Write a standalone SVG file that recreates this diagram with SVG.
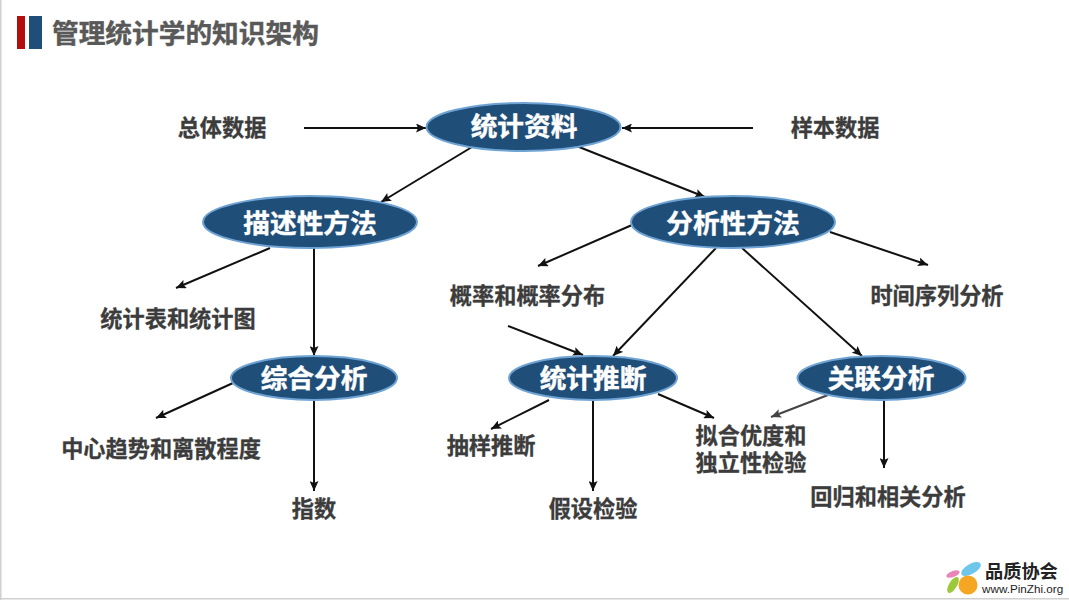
<svg xmlns="http://www.w3.org/2000/svg" width="1069" height="600" viewBox="0 0 1069 600">
<defs>
<marker id="a" markerUnits="userSpaceOnUse" markerWidth="11" markerHeight="9" refX="10" refY="4.5" orient="auto"><path d="M0 0L10 4.5L0 9L2 4.5Z" fill="#111"/></marker>
<marker id="g" markerUnits="userSpaceOnUse" markerWidth="11" markerHeight="9" refX="10" refY="4.5" orient="auto"><path d="M0 0L10 4.5L0 9L2 4.5Z" fill="#444"/></marker>
</defs>
<style>
text{font-family:"Noto Sans CJK SC","Liberation Sans",sans-serif;font-weight:700}
.n ellipse{fill:#1f4e79;stroke:#6fa3d4;stroke-width:2}
.n text{fill:#fff;font-size:26.7px;text-anchor:middle;stroke:#fff;stroke-width:.4}
.t{fill:#3c3c3c;font-size:22.2px;text-anchor:middle;stroke:#3c3c3c;stroke-width:.3}
#connectors line{stroke:#111;stroke-width:2;marker-end:url(#a);fill:none}
</style>
<rect width="1069" height="600" fill="#fff"/>
<rect x="0" y="0" width="1.5" height="600" fill="#d0d0d0"/>
<rect x="0" y="598" width="1069" height="1.5" fill="#d0d0d0"/>
<rect x="17" y="16" width="8" height="33" fill="#b30f0f"/>
<rect x="29" y="16" width="13" height="33" fill="#1f4e79"/>
<text x="52" y="43" font-size="26.7" fill="#595959" stroke="#595959" stroke-width=".4">管理统计学的知识架构</text>
<g id="connectors">
<line x1="304" y1="128" x2="426" y2="128"/>
<line x1="753" y1="128" x2="622" y2="128"/>
<line x1="477" y1="144" x2="381" y2="202"/>
<line x1="569" y1="143" x2="705" y2="197"/>
<line x1="270" y1="248" x2="176" y2="288"/>
<line x1="314" y1="248" x2="314" y2="356"/>
<line x1="632" y1="225" x2="538" y2="266"/>
<line x1="716" y1="248" x2="613" y2="356"/>
<line x1="742" y1="248" x2="862" y2="356"/>
<line x1="830" y1="232" x2="928" y2="265"/>
<line x1="508" y1="326" x2="583" y2="355"/>
<line x1="233" y1="383" x2="156" y2="418"/>
<line x1="314" y1="400" x2="314" y2="491"/>
<line x1="549" y1="400" x2="491" y2="429"/>
<line x1="593" y1="401" x2="593" y2="491"/>
<line x1="658" y1="394" x2="714" y2="418"/>
<line x1="828" y1="395" x2="771" y2="417" style="stroke:#444;marker-end:url(#g)"/>
<line x1="884" y1="400" x2="884" y2="468"/>
</g>
<g id="n1" class="n"><ellipse cx="523.500" cy="127" rx="97" ry="24"/><text x="524" y="136">统计资料</text></g>
<g id="n2" class="n"><ellipse cx="310" cy="222" rx="107" ry="26"/><text x="310" y="233">描述性方法</text></g>
<g id="n3" class="n"><ellipse cx="733" cy="222" rx="102" ry="26"/><text x="733" y="233">分析性方法</text></g>
<g id="n4" class="n"><ellipse cx="314" cy="378" rx="83" ry="22"/><text x="314" y="388">综合分析</text></g>
<g id="n5" class="n"><ellipse cx="593" cy="378" rx="84" ry="22"/><text x="593" y="388">统计推断</text></g>
<g id="n6" class="n"><ellipse cx="881.500" cy="378" rx="84" ry="22"/><text x="881" y="388">关联分析</text></g>
<g id="l1"><text class="t" x="222" y="136">总体数据</text></g>
<g id="l2"><text class="t" x="835" y="136">样本数据</text></g>
<g id="l3"><text class="t" x="178" y="327">统计表和统计图</text></g>
<g id="l4"><text class="t" x="527.500" y="304">概率和概率分布</text></g>
<g id="l5"><text class="t" x="937" y="304">时间序列分析</text></g>
<g id="l6"><text class="t" x="161" y="457">中心趋势和离散程度</text></g>
<g id="l7"><text class="t" x="314" y="517">指数</text></g>
<g id="l8"><text class="t" x="491" y="454">抽样推断</text></g>
<g id="l9"><text class="t" x="593" y="517">假设检验</text></g>
<g id="l10"><text class="t" x="751" y="444">拟合优度和<tspan x="751" y="471">独立性检验</tspan></text></g>
<g id="l11"><text class="t" x="888" y="505">回归和相关分析</text></g>
<g id="logo">
<ellipse cx="971" cy="569" rx="11" ry="5" fill="#6ec6ea" transform="rotate(-30 971 569)"/>
<ellipse cx="953" cy="574" rx="7" ry="3" fill="#e985b8" transform="rotate(-20 953 574)"/>
<ellipse cx="953" cy="585" rx="9" ry="4" fill="#9cc83c" transform="rotate(-58 953 585)"/>
<circle cx="968" cy="585" r="9.500" fill="#f5a623"/>
<text x="985" y="578" font-size="18.200" fill="#222">品质协会</text>
<text x="982" y="593" font-size="11.700" fill="#222" style="font-family:'Liberation Sans',sans-serif;font-weight:400">www.PinZhi.org</text>
</g>
</svg>
